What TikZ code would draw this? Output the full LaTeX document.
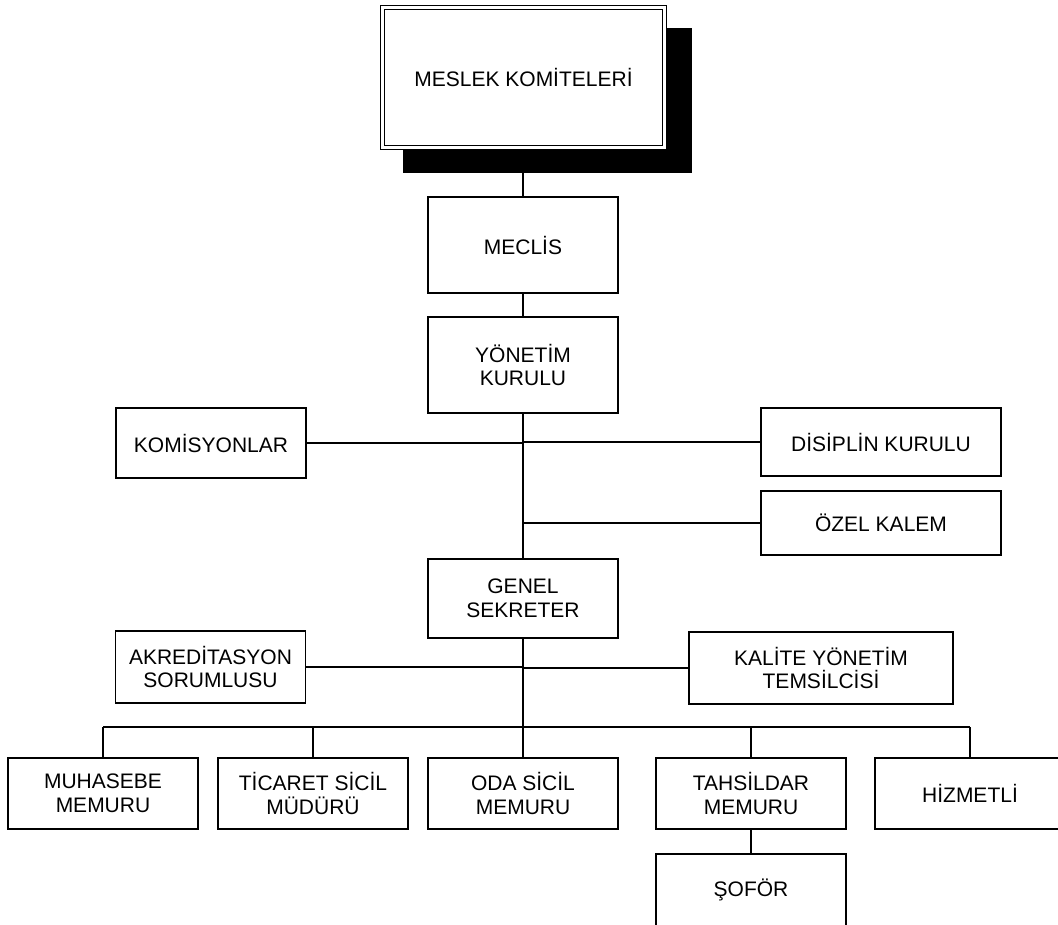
\documentclass[tikz,border=0pt]{standalone}
\usepackage{fontspec}
\setmainfont{Liberation Sans}
\begin{document}
\begin{tikzpicture}[x=1pt, y=-1pt, font=\fontsize{21}{23.5}\selectfont, line join=miter,
	kutu/.style={draw, line width=1.4pt, fill=white, align=center, inner sep=0pt, minimum width=190pt, minimum height=#1},
	kutu/.default=72pt,
	hat/.style={line width=1.5pt},
	omurga/.style={line width=2.2pt}]
	\useasboundingbox (0,0) rectangle (1058,925);
	\clip (0,0) rectangle (1058,925);
	% ust kutu ve golgesi
	\node[fill=black, inner sep=0pt, minimum width=289pt, minimum height=145pt] (golge) at (547.5,100.5) {};
	\node[draw, double, line width=1.2pt, double distance=2.5pt, fill=white, inner sep=0pt, minimum width=282pt, minimum height=140pt] (komite) at (523.5,77.5) {MESLEK KOMİTELERİ};
	\node[kutu=96pt] (meclis) at (523,245) {MECLİS};
	\node[kutu=96pt] (yonetim) at (523,365) {YÖNETİM\\KURULU};
	\node[kutu=70pt] (komisyon) at (211,443) {KOMİSYONLAR};
	\node[kutu=68pt, minimum width=240pt] (disiplin) at (881,442) {DİSİPLİN KURULU};
	\node[kutu=64pt, minimum width=240pt] (ozel) at (881,523) {ÖZEL KALEM};
	\node[kutu=79pt] (genel) at (523,598.5) {GENEL\\SEKRETER};
	\node[kutu=72pt] (akred) at (210.5,667) {AKREDİTASYON\\SORUMLUSU};
	\node[kutu=72pt, minimum width=264pt] (kalite) at (821,668) {KALİTE YÖNETİM\\TEMSİLCİSİ};
	\coordinate (bus) at (523,727);
	\draw[hat] (golge.south -| meclis.north) -- (meclis.north);
	\draw[hat] (meclis.south) -- (yonetim.north);
	\draw[omurga] (yonetim.south) -- (genel.north);
	\draw[hat] (komisyon.east) -- (komisyon.east -| yonetim.south);
	\draw[hat] (disiplin.west) -- (disiplin.west -| yonetim.south);
	\draw[hat] (ozel.west) -- (ozel.west -| yonetim.south);
	\draw[omurga] (genel.south) -- (bus);
	\draw[hat] (akred.east) -- (akred.east -| genel.south);
	\draw[hat] (kalite.west) -- (kalite.west -| genel.south);
	% alt sira
	\foreach \ad/\x/\metin in {muhasebe/103/MUHASEBE\\MEMURU, ticaret/313/TİCARET SİCİL\\MÜDÜRÜ, oda/523/ODA SİCİL\\MEMURU, tahsildar/751/TAHSİLDAR\\MEMURU, hizmetli/970/HİZMETLİ}{
		\node[kutu=71pt] (\ad) at (\x,793.5) {\metin};
		\draw[hat] (\ad.north) -- (\ad.north |- bus);
	}
	\draw[hat] (muhasebe.north |- bus) -- (hizmetli.north |- bus);
	\node[kutu=72pt] (sofor) at (751,890) {ŞOFÖR};
	\draw[hat] (tahsildar.south) -- (sofor.north);
\end{tikzpicture}
\end{document}
